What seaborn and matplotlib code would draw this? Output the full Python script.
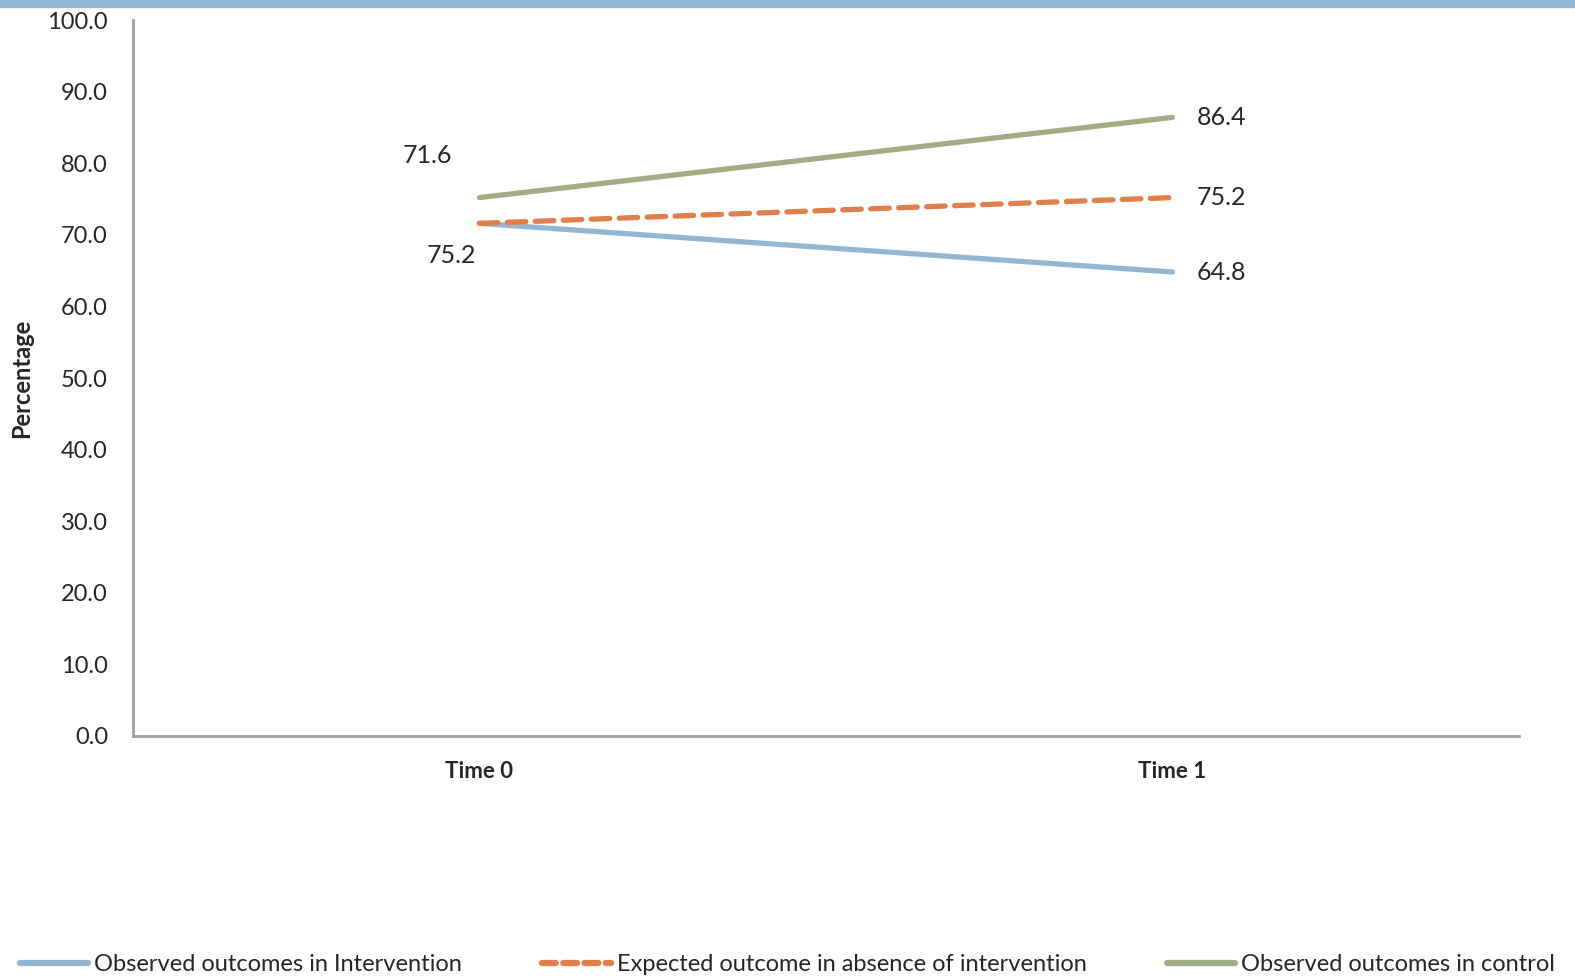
import matplotlib
matplotlib.use("Agg")
import matplotlib.pyplot as plt
import seaborn as sns
import pandas as pd
from matplotlib.lines import Line2D

categories = ["Time 0", "Time 1"]
intervention = [71.6, 64.8]
expected = [71.6, 75.2]
control = [75.2, 86.4]
series_names = ["Observed outcomes in Intervention",
                "Expected outcome in absence of intervention",
                "Observed outcomes in control"]
y_ticks = [0, 10, 20, 30, 40, 50, 60, 70, 80, 90, 100]

sns.set_theme(style="white")
plt.rcParams['font.family'] = ['Lato', 'DejaVu Sans']

colors = ["#93B6D3", "#E07F4A", "#A3AD85"]

rows = []
for name, vals in zip(series_names, [intervention, expected, control]):
    for c, v in zip(categories, vals):
        rows.append({"Time": c, "Value": v, "Series": name})
df = pd.DataFrame(rows)

fig = plt.figure(figsize=(15.75, 9.77), dpi=100)
ax = fig.add_axes([0.0844, 0.2467, 0.88, 0.7328])

sns.lineplot(data=df, x="Time", y="Value", hue="Series", style="Series",
             palette=dict(zip(series_names, colors)),
             dashes={series_names[0]: "", series_names[1]: (3.5, 1.8), series_names[2]: ""},
             linewidth=3.8, ax=ax, legend=False, sort=False)
for ln in ax.lines:
    ln.set_solid_capstyle("round")
    ln.set_dash_capstyle("round")

ax.set_xlim(-0.5, 1.5)
ax.set_ylim(0, 100)
ax.set_yticks(y_ticks)
ax.set_yticklabels([f"{t:.1f}" for t in y_ticks], fontsize=17)
ax.set_xticks([0, 1])
ax.set_xticklabels(categories, fontsize=16, fontweight="bold")
ax.tick_params(axis="x", length=0, pad=18)
ax.tick_params(axis="y", length=0, pad=18)
ax.set_xlabel("")
ax.set_ylabel("Percentage", fontsize=17, fontweight="bold", labelpad=10)
for s in ["top", "right"]:
    ax.spines[s].set_visible(False)
for s in ["left", "bottom"]:
    ax.spines[s].set_color("#A0A0A0")
    ax.spines[s].set_linewidth(2)

# data labels
ax.annotate(f"{intervention[0]:.1f}", (0, intervention[0]), xytext=(-52, 68),
            textcoords="offset pixels", ha="center", va="center", fontsize=18)
ax.annotate(f"{control[0]:.1f}", (0, control[0]), xytext=(-28, -58),
            textcoords="offset pixels", ha="center", va="center", fontsize=18)
for vals in [intervention, expected, control]:
    ax.annotate(f"{vals[1]:.1f}", (1, vals[1]), xytext=(24, 0),
                textcoords="offset pixels", ha="left", va="center", fontsize=18)

# top band
fig.patches.append(plt.Rectangle((0, 0.993), 1, 0.007, transform=fig.transFigure,
                                 color="#93B6D3", zorder=0))

handles = [Line2D([], [], color=colors[0], lw=4.5, solid_capstyle="round"),
           Line2D([], [], color=colors[1], lw=4.5, dashes=(2.2, 1.2), dash_capstyle="round"),
           Line2D([], [], color=colors[2], lw=4.5, solid_capstyle="round")]
fig.legend(handles, series_names, loc="lower center", bbox_to_anchor=(0.5, -0.02),
           ncol=3, frameon=False, fontsize=17, handlelength=2.9, handletextpad=0.25,
           columnspacing=3.4)

fig.savefig("out.png", dpi=100)
